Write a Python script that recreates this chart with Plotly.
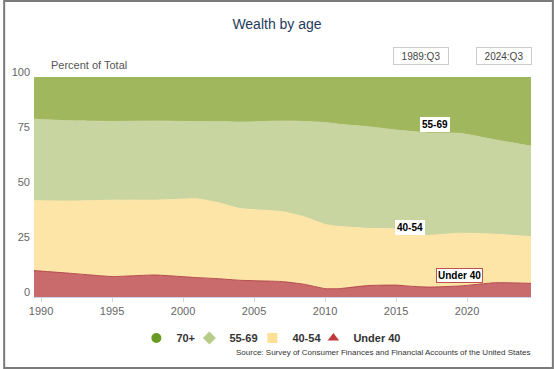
import plotly.graph_objects as go

# ---- data ----
years = [1989.5, 1992, 1995, 1998, 2001, 2002.5, 2004, 2007, 2008.5, 2010,
         2011, 2013, 2015, 2016, 2017.3, 2019.5, 2022, 2024.5]
under40 = [12.0, 10.8, 9.3, 10.0, 8.8, 8.3, 7.6, 7.0, 5.8, 3.8,
           3.8, 5.2, 5.4, 4.9, 4.5, 5.0, 6.5, 6.2]
age40_54 = [31.8, 32.8, 34.7, 34.0, 35.8, 34.5, 32.6, 31.8, 30.7, 29.2,
            28.2, 26.0, 25.4, 23.4, 23.5, 24.0, 22.0, 21.2]
age55_69 = [37.0, 36.5, 35.8, 36.0, 35.1, 37.0, 39.3, 41.2, 43.3, 46.3,
            46.5, 46.2, 45.1, 47.0, 46.5, 45.4, 42.9, 41.2]
age70p = [19.2, 19.9, 20.2, 20.0, 20.3, 20.2, 20.5, 20.0, 20.2, 20.7,
          21.5, 22.6, 24.1, 24.7, 25.5, 25.6, 28.6, 31.4]

series_names = ["Under 40", "40-54", "55-69", "70+"]
x_ticks = [1990, 1995, 2000, 2005, 2010, 2015, 2020]
y_ticks = [0, 25, 50, 75, 100]
range_labels = ["1989:Q3", "2024:Q3"]
label_pos = {"55-69": (2017.77, 78.5), "40-54": (2016.0, 31.6), "Under 40": (2019.48, 9.6)}

fill_colors = ["#c96b6d", "#fde5a8", "#c9d5a0", "#a0b75d"]
line_colors = ["#b5474a", "#fde5a8", "#c9d5a0", "#a0b75d"]
leg_colors = ["#c0393b", "#fddf98", "#b8cc8a", "#6b9a22"]
leg_symbols = ["triangle-up", "square", "diamond", "circle"]
leg_widths = [0, 16, 18, 8]

FONT = "Liberation Sans, Arial, sans-serif"

fig = go.Figure()
for name, vals, fc, lc in zip(series_names, [under40, age40_54, age55_69, age70p],
                              fill_colors, line_colors):
    fig.add_trace(go.Scatter(
        x=years, y=vals, name=name, stackgroup="one", mode="lines",
        line=dict(color=lc, width=1, shape="spline", smoothing=0.4),
        fillcolor=fc, showlegend=False, hoverinfo="x+y+name"))

# legend-only entries (markers like the reference)
for name, col, sym, lw in zip(series_names, leg_colors, leg_symbols, leg_widths):
    kw = dict(legendwidth=lw) if lw else {}
    fig.add_trace(go.Scatter(
        x=[None], y=[None], name=name, mode="markers",
        marker=dict(color=col, symbol=sym, size=10), showlegend=True, **kw))

# plot area geometry: x 31..531, y 77..297 in a 554x369 page
L, R, T, B = 31, 554 - 531, 77, 369 - 297
PW, PH = 500, 220

def px(xp):
    return (xp - L) / PW

def py(yp):
    return (297 - yp) / PH

annotations = []
for name, (ax, ay) in label_pos.items():
    annotations.append(dict(
        x=ax, y=ay, xref="x", yref="y", text="<b>%s</b>" % name, showarrow=False,
        font=dict(family=FONT, size=10, color="#000000"),
        bgcolor="#ffffff",
        bordercolor="#c0504d" if name == "Under 40" else "#ffffff",
        borderwidth=1, borderpad=1))

for lab, cx in zip(range_labels, [420, 504]):
    annotations.append(dict(
        x=px(cx), y=py(56), xref="paper", yref="paper", text=lab, showarrow=False,
        font=dict(family=FONT, size=10, color="#444444"),
        bgcolor="#ffffff", bordercolor="#cccccc", borderwidth=1,
        width=54, height=16, borderpad=0, xanchor="center", yanchor="middle"))

annotations.append(dict(
    x=px(46), y=py(65), xref="paper", yref="paper", text="Percent of Total",
    showarrow=False, xanchor="left", yanchor="middle",
    font=dict(family=FONT, size=11, color="#555555")))

annotations.append(dict(
    x=px(532), y=py(353), xref="paper", yref="paper",
    text="Source: Survey of Consumer Finances and Financial Accounts of the United States",
    showarrow=False, xanchor="right", yanchor="middle",
    font=dict(family=FONT, size=8, color="#333333")))

fig.update_layout(
    width=554, height=369,
    margin=dict(l=L, r=R, t=T, b=B),
    paper_bgcolor="#ffffff", plot_bgcolor="#ffffff",
    font=dict(family=FONT, color="#666666"),
    title=dict(text="Wealth by age", x=0.5, xanchor="center", y=1 - 24 / 369,
               yanchor="middle", font=dict(family=FONT, size=14, color="#1f3b5c")),
    showlegend=True,
    legend=dict(orientation="h", x=px(134), xanchor="left", y=py(338),
                yanchor="middle", traceorder="reversed",
                font=dict(family=FONT, size=11, color="#333333", weight="bold"),
                itemwidth=30, bgcolor="rgba(0,0,0,0)"),
    annotations=annotations,
    shapes=[dict(type="rect", xref="paper", yref="paper",
                 x0=px(1), x1=px(553), y0=py(368), y1=py(1),
                 line=dict(color="#7a7a7a", width=2), fillcolor="rgba(0,0,0,0)",
                 layer="above")],
)

fig.update_xaxes(range=[1989.5, 2024.5], tickvals=x_ticks, ticks="outside",
                 ticklen=4, tickcolor="#ccd6eb", showgrid=False, zeroline=False,
                 showline=True, linecolor="#ccd6eb", linewidth=1,
                 tickfont=dict(family=FONT, size=11, color="#666666"))
fig.update_yaxes(range=[0, 100], tickvals=y_ticks, showgrid=False, zeroline=False,
                 ticks="", ticklabelshift=-5, ticklabelstandoff=3,
                 tickfont=dict(family=FONT, size=11, color="#666666"))

fig.write_html("out.html", config={"displayModeBar": False},
               post_script="document.body.style.margin='0';")
